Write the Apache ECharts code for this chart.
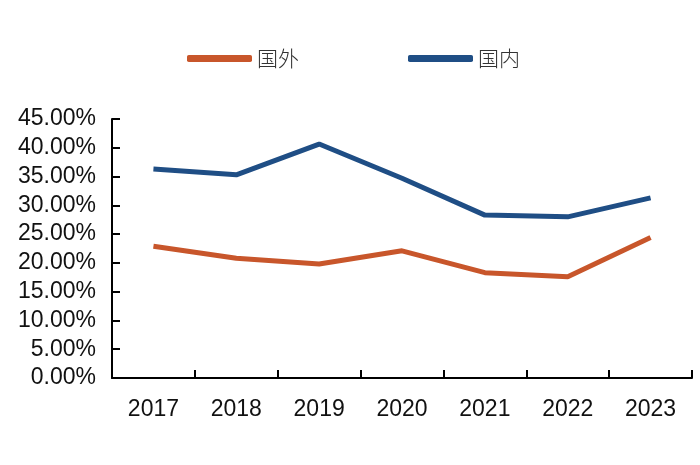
<!DOCTYPE html>
<html>
<head>
<meta charset="utf-8">
<script src="https://cdn.jsdelivr.net/npm/echarts@6/dist/echarts.min.js"></script>
<style>html,body{margin:0;padding:0;background:#fff}#c{width:700px;height:465px}</style>
</head>
<body>
<div id="c"></div>
<script>
var categories = ['2017','2018','2019','2020','2021','2022','2023'];
var foreignVals = [22.9, 20.8, 19.8, 22.1, 18.3, 17.6, 24.4];
var domesticVals = [36.3, 35.3, 40.65, 34.7, 28.3, 28.0, 31.3];
var seriesNames = ['国外', '国内'];

var chart = echarts.init(document.getElementById('c'));
chart.setOption({
  animation: false,
  backgroundColor: '#fff',
  legend: {
    top: 43, left: 182,
    itemWidth: 65, itemHeight: 7, itemGap: 109,
    icon: 'roundRect',
    textStyle: { fontSize: 21, color: '#333', fontFamily: 'Noto Sans CJK SC', fontWeight: 300 },
    data: seriesNames
  },
  grid: { left: 112, right: 8, top: 119, bottom: 87, containLabel: false, outerBoundsMode: 'none' },
  xAxis: {
    type: 'category', data: categories, boundaryGap: true,
    axisLine: { lineStyle: { color: '#000', width: 2 } },
    axisTick: { show: true, inside: true, length: 8, lineStyle: { color: '#000', width: 2 } },
    axisLabel: { fontSize: 23, color: '#111', fontFamily: 'Liberation Sans, Arial', margin: 20 }
  },
  yAxis: {
    type: 'value', min: 0, max: 45, interval: 5,
    axisLine: { show: true, lineStyle: { color: '#000', width: 2 } },
    axisTick: { show: true, inside: true, length: 8, lineStyle: { color: '#000', width: 2 } },
    splitLine: { show: false },
    axisLabel: { fontSize: 23, color: '#111', fontFamily: 'Liberation Sans, Arial', margin: 16,
      formatter: function(v){ return v.toFixed(2) + '%'; } }
  },
  series: [
    { name: seriesNames[0], type: 'line', data: foreignVals, showSymbol: false, symbol: 'none',
      lineStyle: { color: '#C8562B', width: 5 }, itemStyle: { color: '#C8562B' } },
    { name: seriesNames[1], type: 'line', data: domesticVals, showSymbol: false, symbol: 'none',
      lineStyle: { color: '#1F4E85', width: 5 }, itemStyle: { color: '#1F4E85' } }
  ]
});
</script>
</body>
</html>
